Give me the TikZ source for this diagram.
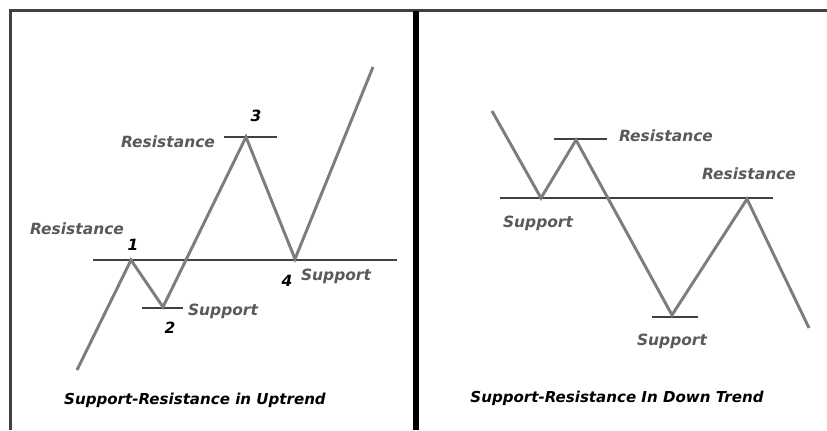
\documentclass[tikz,border=0pt]{standalone}
\usepackage{fontspec}
\setmainfont{DejaVu Sans}

\definecolor{trendgray}{RGB}{125,125,125}
\definecolor{levelgray}{RGB}{65,65,65}
\definecolor{labelgray}{RGB}{90,90,90}

\tikzset{
  trend/.style={color=trendgray, line width=2.2pt, line join=miter},
  level/.style={color=levelgray, line width=2.2pt},
  frameline/.style={color=levelgray, line width=1.6pt},
  lbl/.style={text=labelgray, inner sep=0pt, font=\bfseries\itshape\fontsize{11.6}{13}\selectfont},
  num/.style={text=black, inner sep=0pt, font=\bfseries\itshape\fontsize{11.6}{13}\selectfont},
  caption/.style={text=black, inner sep=0pt, font=\bfseries\itshape\fontsize{11.3}{13}\selectfont}
}

\begin{document}
\begin{tikzpicture}[x=0.75pt,y=0.75pt,yscale=-1,xscale=1]
\useasboundingbox (0,0) rectangle (827,430);
\fill[white] (0,0) rectangle (827,430);

% frame
\draw [frameline] (10.5,430) -- (10.5,10.5) -- (827,10.5) ;
\draw [color=black, line width=3.8pt] (416,10.5) -- (416,430) ;

%% Uptrend panel
% turning points
\coordinate (u0) at (77,370) ;
\coordinate (u1) at (131,260) ;
\coordinate (u2) at (163,307) ;
\coordinate (u3) at (246,137) ;
\coordinate (u4) at (295,259) ;
\coordinate (u5) at (373,67) ;
% levels
\draw [level] (93,260) -- (397,260) ;
\draw [level] (224,137) -- (277,137) ;
\draw [level] (142,308) -- (183,308) ;
% price line
\draw [trend] (u0) -- (u1) -- (u2) -- (u3) -- (u4) -- (u5) ;

% Text Node
\node [lbl] (resA) at (77,229) {Resistance};
\node [lbl] (resB) at (168,142) {Resistance};
\node [lbl] (supA) at (223,311) {Support};
\node [lbl] (supB) at (336,276) {Support};
\node [num] (n1) at (133,245) {1};
\node [num] (n2) at (170,328) {2};
\node [num] (n3) at (256,116) {3};
\node [num] (n4) at (287,281) {4};
\node [caption] (capUp) at (195,400) {Support-Resistance in Uptrend};

%% Down trend panel
% turning points
\coordinate (d0) at (492,111) ;
\coordinate (d1) at (541,198) ;
\coordinate (d2) at (576,140) ;
\coordinate (d3) at (672,315) ;
\coordinate (d4) at (747,199) ;
\coordinate (d5) at (809,328) ;
% levels
\draw [level] (500,198) -- (773,198) ;
\draw [level] (554,139) -- (607,139) ;
\draw [level] (652,317) -- (698,317) ;
% price line
\draw [trend] (d0) -- (d1) -- (d2) -- (d3) -- (d4) -- (d5) ;

% Text Node
\node [lbl] (resC) at (666,136) {Resistance};
\node [lbl] (resD) at (749,174) {Resistance};
\node [lbl] (supC) at (538,223) {Support};
\node [lbl] (supD) at (672,341) {Support};
\node [caption] (capDown) at (617,398) {Support-Resistance In Down Trend};

\end{tikzpicture}
\end{document}
